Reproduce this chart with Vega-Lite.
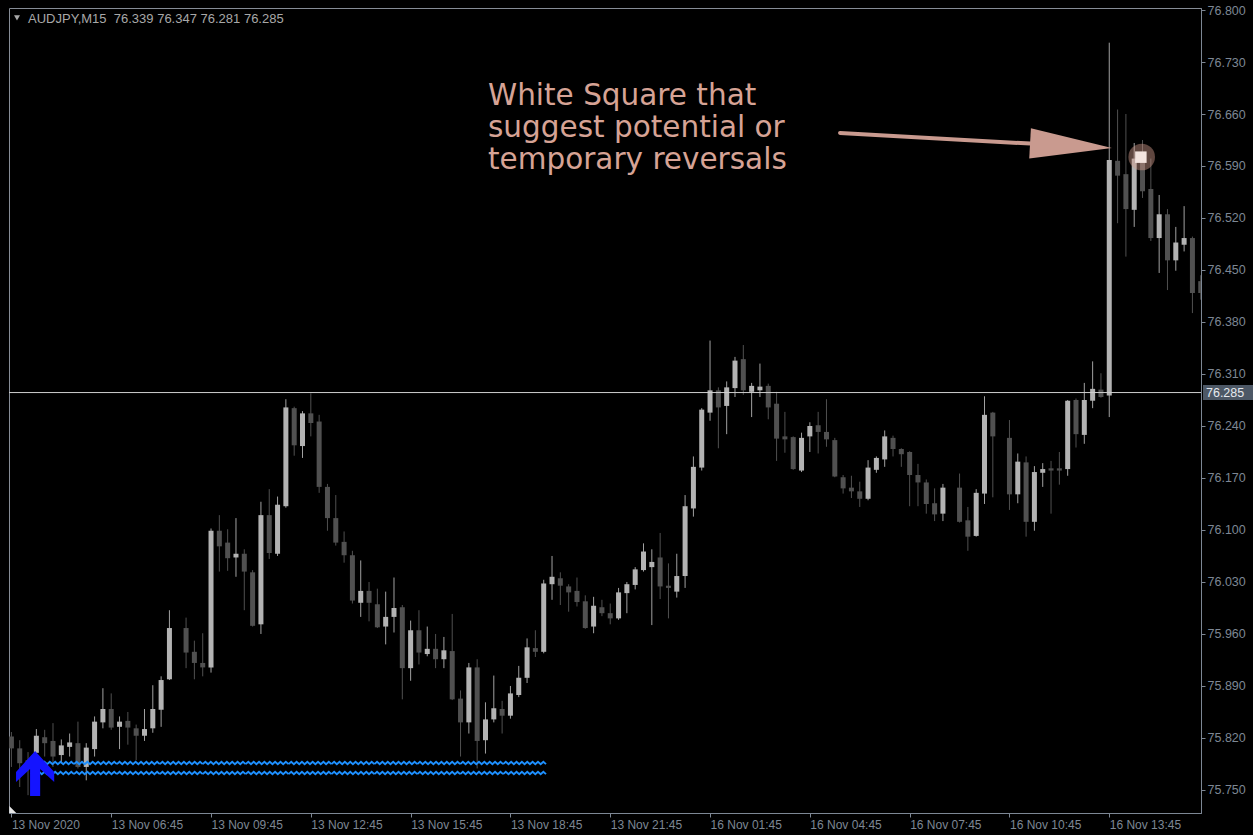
{
  "$schema": "https://vega.github.io/schema/vega-lite/v6.json",
  "width": 1192,
  "height": 805,
  "autosize": {"type": "none"},
  "padding": {"left": 9, "top": 8, "right": 52, "bottom": 22},
  "background": "#000000",
  "config": {
    "view": {"stroke": "#868c96", "strokeWidth": 1},
    "scale": {"continuousPadding": 0},
    "axis": {"grid": false, "domainColor": "#7d8794", "tickColor": "#7d8794", "labelColor": "#7d8794", "labelFont": "Liberation Sans", "labelFontSize": 12.5, "tickSize": 4, "domainWidth": 1, "tickWidth": 1, "labelOverlap": false, "labelBound": false, "labelFlush": false},
    "axisX": {"labelFontSize": 12}
  },
  "data": {"values": [
    {"i":0,"o":75.822,"h":75.828,"l":75.781,"c":75.806},
    {"i":1,"o":75.806,"h":75.817,"l":75.754,"c":75.786},
    {"i":2,"o":75.790,"h":75.801,"l":75.743,"c":75.780},
    {"i":3,"o":75.800,"h":75.832,"l":75.794,"c":75.823},
    {"i":4,"o":75.821,"h":75.831,"l":75.795,"c":75.813},
    {"i":5,"o":75.816,"h":75.840,"l":75.781,"c":75.795},
    {"i":6,"o":75.797,"h":75.818,"l":75.786,"c":75.810},
    {"i":7,"o":75.808,"h":75.826,"l":75.795,"c":75.814},
    {"i":8,"o":75.813,"h":75.842,"l":75.779,"c":75.781},
    {"i":9,"o":75.781,"h":75.813,"l":75.763,"c":75.807},
    {"i":10,"o":75.805,"h":75.849,"l":75.795,"c":75.842},
    {"i":11,"o":75.841,"h":75.887,"l":75.833,"c":75.859},
    {"i":12,"o":75.859,"h":75.880,"l":75.831,"c":75.834},
    {"i":13,"o":75.835,"h":75.849,"l":75.805,"c":75.842},
    {"i":14,"o":75.843,"h":75.855,"l":75.811,"c":75.834},
    {"i":15,"o":75.833,"h":75.838,"l":75.790,"c":75.823},
    {"i":16,"o":75.823,"h":75.859,"l":75.816,"c":75.832},
    {"i":17,"o":75.833,"h":75.891,"l":75.827,"c":75.859},
    {"i":18,"o":75.858,"h":75.903,"l":75.835,"c":75.898},
    {"i":19,"o":75.899,"h":75.992,"l":75.898,"c":75.968},
    {"i":21,"o":75.968,"h":75.982,"l":75.914,"c":75.935},
    {"i":22,"o":75.936,"h":75.951,"l":75.899,"c":75.921},
    {"i":23,"o":75.921,"h":75.961,"l":75.903,"c":75.915},
    {"i":24,"o":75.915,"h":76.102,"l":75.908,"c":76.099},
    {"i":25,"o":76.099,"h":76.120,"l":76.044,"c":76.078},
    {"i":26,"o":76.083,"h":76.101,"l":76.045,"c":76.062},
    {"i":27,"o":76.063,"h":76.116,"l":76.037,"c":76.068},
    {"i":28,"o":76.068,"h":76.074,"l":75.992,"c":76.044},
    {"i":29,"o":76.043,"h":76.046,"l":75.970,"c":75.971},
    {"i":30,"o":75.973,"h":76.138,"l":75.960,"c":76.120},
    {"i":31,"o":76.120,"h":76.155,"l":76.061,"c":76.069},
    {"i":32,"o":76.068,"h":76.145,"l":76.065,"c":76.134},
    {"i":33,"o":76.132,"h":76.276,"l":76.130,"c":76.265},
    {"i":34,"o":76.264,"h":76.266,"l":76.200,"c":76.214},
    {"i":35,"o":76.213,"h":76.260,"l":76.197,"c":76.257},
    {"i":36,"o":76.257,"h":76.284,"l":76.226,"c":76.244},
    {"i":37,"o":76.246,"h":76.255,"l":76.150,"c":76.158},
    {"i":38,"o":76.158,"h":76.162,"l":76.099,"c":76.116},
    {"i":39,"o":76.116,"h":76.147,"l":76.079,"c":76.083},
    {"i":40,"o":76.084,"h":76.098,"l":76.056,"c":76.066},
    {"i":41,"o":76.066,"h":76.072,"l":76.001,"c":76.005},
    {"i":42,"o":76.002,"h":76.059,"l":75.983,"c":76.018},
    {"i":43,"o":76.018,"h":76.030,"l":75.977,"c":76.002},
    {"i":44,"o":76.000,"h":76.021,"l":75.968,"c":75.969},
    {"i":45,"o":75.970,"h":76.017,"l":75.946,"c":75.983},
    {"i":46,"o":75.983,"h":76.036,"l":75.962,"c":75.995},
    {"i":47,"o":75.996,"h":75.999,"l":75.872,"c":75.914},
    {"i":48,"o":75.914,"h":75.978,"l":75.897,"c":75.965},
    {"i":49,"o":75.965,"h":75.992,"l":75.919,"c":75.935},
    {"i":50,"o":75.933,"h":75.970,"l":75.930,"c":75.940},
    {"i":51,"o":75.940,"h":75.960,"l":75.914,"c":75.926},
    {"i":52,"o":75.926,"h":75.956,"l":75.914,"c":75.938},
    {"i":53,"o":75.937,"h":75.987,"l":75.871,"c":75.872},
    {"i":54,"o":75.873,"h":75.884,"l":75.795,"c":75.841},
    {"i":55,"o":75.841,"h":75.921,"l":75.826,"c":75.915},
    {"i":56,"o":75.915,"h":75.926,"l":75.779,"c":75.816},
    {"i":57,"o":75.817,"h":75.868,"l":75.799,"c":75.845},
    {"i":58,"o":75.845,"h":75.904,"l":75.841,"c":75.860},
    {"i":59,"o":75.859,"h":75.870,"l":75.826,"c":75.850},
    {"i":60,"o":75.850,"h":75.890,"l":75.846,"c":75.880},
    {"i":61,"o":75.878,"h":75.917,"l":75.875,"c":75.901},
    {"i":62,"o":75.901,"h":75.954,"l":75.894,"c":75.942},
    {"i":63,"o":75.941,"h":75.965,"l":75.929,"c":75.936},
    {"i":64,"o":75.936,"h":76.033,"l":75.934,"c":76.028},
    {"i":65,"o":76.027,"h":76.065,"l":76.006,"c":76.037},
    {"i":66,"o":76.035,"h":76.043,"l":75.999,"c":76.025},
    {"i":67,"o":76.024,"h":76.027,"l":75.990,"c":76.016},
    {"i":68,"o":76.018,"h":76.036,"l":75.997,"c":76.003},
    {"i":69,"o":76.004,"h":76.012,"l":75.967,"c":75.968},
    {"i":70,"o":75.970,"h":76.010,"l":75.961,"c":75.998},
    {"i":71,"o":75.996,"h":76.006,"l":75.984,"c":75.988},
    {"i":72,"o":75.988,"h":76.001,"l":75.973,"c":75.981},
    {"i":73,"o":75.981,"h":76.022,"l":75.979,"c":76.016},
    {"i":74,"o":76.015,"h":76.030,"l":75.988,"c":76.027},
    {"i":75,"o":76.026,"h":76.050,"l":76.020,"c":76.047},
    {"i":76,"o":76.046,"h":76.082,"l":76.044,"c":76.071},
    {"i":77,"o":76.050,"h":76.074,"l":75.972,"c":76.057},
    {"i":78,"o":76.063,"h":76.096,"l":76.007,"c":76.024},
    {"i":79,"o":76.025,"h":76.055,"l":75.981,"c":76.022},
    {"i":80,"o":76.017,"h":76.068,"l":76.009,"c":76.038},
    {"i":81,"o":76.038,"h":76.147,"l":76.022,"c":76.132},
    {"i":82,"o":76.129,"h":76.199,"l":76.118,"c":76.185},
    {"i":83,"o":76.184,"h":76.264,"l":76.180,"c":76.262},
    {"i":84,"o":76.258,"h":76.355,"l":76.247,"c":76.288},
    {"i":85,"o":76.288,"h":76.292,"l":76.210,"c":76.265},
    {"i":86,"o":76.267,"h":76.300,"l":76.229,"c":76.292},
    {"i":87,"o":76.291,"h":76.333,"l":76.279,"c":76.328},
    {"i":88,"o":76.330,"h":76.349,"l":76.282,"c":76.288},
    {"i":89,"o":76.286,"h":76.298,"l":76.252,"c":76.294},
    {"i":90,"o":76.288,"h":76.324,"l":76.279,"c":76.293},
    {"i":91,"o":76.294,"h":76.297,"l":76.249,"c":76.265},
    {"i":92,"o":76.270,"h":76.286,"l":76.193,"c":76.223},
    {"i":93,"o":76.226,"h":76.259,"l":76.204,"c":76.222},
    {"i":94,"o":76.225,"h":76.226,"l":76.181,"c":76.182},
    {"i":95,"o":76.180,"h":76.231,"l":76.178,"c":76.224},
    {"i":96,"o":76.226,"h":76.245,"l":76.205,"c":76.240},
    {"i":97,"o":76.241,"h":76.259,"l":76.203,"c":76.232},
    {"i":98,"o":76.232,"h":76.276,"l":76.212,"c":76.222},
    {"i":99,"o":76.221,"h":76.224,"l":76.171,"c":76.172},
    {"i":100,"o":76.171,"h":76.174,"l":76.149,"c":76.156},
    {"i":101,"o":76.157,"h":76.173,"l":76.143,"c":76.152},
    {"i":102,"o":76.152,"h":76.165,"l":76.131,"c":76.142},
    {"i":103,"o":76.142,"h":76.194,"l":76.140,"c":76.184},
    {"i":104,"o":76.181,"h":76.199,"l":76.177,"c":76.197},
    {"i":105,"o":76.195,"h":76.234,"l":76.185,"c":76.226},
    {"i":106,"o":76.224,"h":76.227,"l":76.199,"c":76.209},
    {"i":107,"o":76.209,"h":76.210,"l":76.185,"c":76.202},
    {"i":108,"o":76.205,"h":76.206,"l":76.132,"c":76.174},
    {"i":109,"o":76.174,"h":76.189,"l":76.132,"c":76.164},
    {"i":110,"o":76.164,"h":76.168,"l":76.122,"c":76.135},
    {"i":111,"o":76.136,"h":76.156,"l":76.112,"c":76.121},
    {"i":112,"o":76.122,"h":76.162,"l":76.112,"c":76.157},
    {"i":114,"o":76.157,"h":76.176,"l":76.110,"c":76.111},
    {"i":115,"o":76.113,"h":76.131,"l":76.072,"c":76.091},
    {"i":116,"o":76.092,"h":76.155,"l":76.091,"c":76.150},
    {"i":117,"o":76.149,"h":76.280,"l":76.135,"c":76.255},
    {"i":118,"o":76.258,"h":76.259,"l":76.144,"c":76.226},
    {"i":120,"o":76.224,"h":76.248,"l":76.127,"c":76.148},
    {"i":121,"o":76.148,"h":76.203,"l":76.136,"c":76.192},
    {"i":122,"o":76.191,"h":76.199,"l":76.091,"c":76.111},
    {"i":123,"o":76.111,"h":76.186,"l":76.099,"c":76.178},
    {"i":124,"o":76.177,"h":76.190,"l":76.158,"c":76.182},
    {"i":125,"o":76.183,"h":76.193,"l":76.122,"c":76.180},
    {"i":126,"o":76.183,"h":76.205,"l":76.161,"c":76.180},
    {"i":127,"o":76.182,"h":76.275,"l":76.173,"c":76.274},
    {"i":128,"o":76.275,"h":76.277,"l":76.211,"c":76.229},
    {"i":129,"o":76.228,"h":76.298,"l":76.216,"c":76.275},
    {"i":130,"o":76.274,"h":76.327,"l":76.264,"c":76.290},
    {"i":131,"o":76.289,"h":76.311,"l":76.278,"c":76.279},
    {"i":132,"o":76.281,"h":76.756,"l":76.252,"c":76.598},
    {"i":133,"o":76.597,"h":76.666,"l":76.513,"c":76.577},
    {"i":134,"o":76.579,"h":76.660,"l":76.468,"c":76.532},
    {"i":135,"o":76.531,"h":76.621,"l":76.508,"c":76.600},
    {"i":136,"o":76.601,"h":76.625,"l":76.547,"c":76.556},
    {"i":137,"o":76.559,"h":76.600,"l":76.489,"c":76.493},
    {"i":138,"o":76.493,"h":76.551,"l":76.446,"c":76.525},
    {"i":139,"o":76.525,"h":76.532,"l":76.423,"c":76.463},
    {"i":140,"o":76.463,"h":76.508,"l":76.449,"c":76.487},
    {"i":141,"o":76.484,"h":76.536,"l":76.475,"c":76.493},
    {"i":142,"o":76.493,"h":76.495,"l":76.392,"c":76.419},
    {"i":143,"o":76.435,"h":76.443,"l":76.410,"c":76.419}
  ]},
  "layer": [
    {
      "mark": {"type": "rule", "strokeWidth": 1, "clip": true},
      "encoding": {
        "x": {"field": "i", "type": "quantitative", "title": null,
          "scale": {"domain": [-0.29, 143.03], "nice": false, "zero": false, "padding": 0},
          "axis": {"orient": "bottom", "values": [0,12,24,36,48,60,72,84,96,108,120,132],
            "labelExpr": "['13 Nov 2020','13 Nov 06:45','13 Nov 09:45','13 Nov 12:45','13 Nov 15:45','13 Nov 18:45','13 Nov 21:45','16 Nov 01:45','16 Nov 04:45','16 Nov 07:45','16 Nov 10:45','16 Nov 13:45'][round(datum.value/12)]",
            "labelAlign": "left", "labelBaseline": "top", "labelPadding": 2}},
        "y": {"field": "l", "type": "quantitative", "title": null,
          "scale": {"domain": [75.719, 76.8027], "nice": false, "zero": false, "padding": 0},
          "axis": {"orient": "right", "values": [75.75,75.82,75.89,75.96,76.03,76.10,76.17,76.24,76.31,76.38,76.45,76.52,76.59,76.66,76.73,76.80],
            "format": ".3f", "labelAlign": "left", "labelBaseline": "middle", "labelPadding": 2}},
        "y2": {"field": "h"},
        "color": {"condition": {"test": "datum.c >= datum.o", "value": "#a0a0a0"}, "value": "#505050"}
      }
    },
    {
      "mark": {"type": "bar", "size": 5, "clip": true},
      "encoding": {
        "x": {"field": "i", "type": "quantitative", "title": null},
        "y": {"field": "o", "type": "quantitative", "title": null},
        "y2": {"field": "c"},
        "color": {"condition": {"test": "datum.c >= datum.o", "value": "#b3b3b3"}, "value": "#505050"}
      }
    },
    {
      "data": {"values": [{"p": 76.285}]},
      "mark": {"type": "rule", "color": "#cfcfcf", "strokeWidth": 1},
      "encoding": {"y": {"field": "p", "type": "quantitative", "title": null}}
    },
    {
      "data": {"values": [{"level": 75.7864}, {"level": 75.7729}]},
      "mark": {"type": "point", "filled": false, "color": "#1e90ff", "strokeWidth": 1.9, "opacity": 1, "size": 4,
        "shape": "M-257.5,1.2l2.682,-2.4l2.682,2.4l2.682,-2.4l2.682,2.4l2.682,-2.4l2.682,2.4l2.682,-2.4l2.682,2.4l2.682,-2.4l2.682,2.4l2.682,-2.4l2.682,2.4l2.682,-2.4l2.682,2.4l2.682,-2.4l2.682,2.4M-214.58,1.2l2.682,-2.4l2.682,2.4l2.682,-2.4l2.682,2.4l2.682,-2.4l2.682,2.4l2.682,-2.4l2.682,2.4l2.682,-2.4l2.682,2.4l2.682,-2.4l2.682,2.4l2.682,-2.4l2.682,2.4l2.682,-2.4l2.682,2.4M-171.67,1.2l2.682,-2.4l2.682,2.4l2.682,-2.4l2.682,2.4l2.682,-2.4l2.682,2.4l2.682,-2.4l2.682,2.4l2.682,-2.4l2.682,2.4l2.682,-2.4l2.682,2.4l2.682,-2.4l2.682,2.4l2.682,-2.4l2.682,2.4M-128.75,1.2l2.682,-2.4l2.682,2.4l2.682,-2.4l2.682,2.4l2.682,-2.4l2.682,2.4l2.682,-2.4l2.682,2.4l2.682,-2.4l2.682,2.4l2.682,-2.4l2.682,2.4l2.682,-2.4l2.682,2.4l2.682,-2.4l2.682,2.4M-85.83,1.2l2.682,-2.4l2.682,2.4l2.682,-2.4l2.682,2.4l2.682,-2.4l2.682,2.4l2.682,-2.4l2.682,2.4l2.682,-2.4l2.682,2.4l2.682,-2.4l2.682,2.4l2.682,-2.4l2.682,2.4l2.682,-2.4l2.682,2.4M-42.92,1.2l2.682,-2.4l2.682,2.4l2.682,-2.4l2.682,2.4l2.682,-2.4l2.682,2.4l2.682,-2.4l2.682,2.4l2.682,-2.4l2.682,2.4l2.682,-2.4l2.682,2.4l2.682,-2.4l2.682,2.4l2.682,-2.4l2.682,2.4M0,1.2l2.682,-2.4l2.682,2.4l2.682,-2.4l2.682,2.4l2.682,-2.4l2.682,2.4l2.682,-2.4l2.682,2.4l2.682,-2.4l2.682,2.4l2.682,-2.4l2.682,2.4l2.682,-2.4l2.682,2.4l2.682,-2.4l2.682,2.4M42.92,1.2l2.682,-2.4l2.682,2.4l2.682,-2.4l2.682,2.4l2.682,-2.4l2.682,2.4l2.682,-2.4l2.682,2.4l2.682,-2.4l2.682,2.4l2.682,-2.4l2.682,2.4l2.682,-2.4l2.682,2.4l2.682,-2.4l2.682,2.4M85.83,1.2l2.682,-2.4l2.682,2.4l2.682,-2.4l2.682,2.4l2.682,-2.4l2.682,2.4l2.682,-2.4l2.682,2.4l2.682,-2.4l2.682,2.4l2.682,-2.4l2.682,2.4l2.682,-2.4l2.682,2.4l2.682,-2.4l2.682,2.4M128.75,1.2l2.682,-2.4l2.682,2.4l2.682,-2.4l2.682,2.4l2.682,-2.4l2.682,2.4l2.682,-2.4l2.682,2.4l2.682,-2.4l2.682,2.4l2.682,-2.4l2.682,2.4l2.682,-2.4l2.682,2.4l2.682,-2.4l2.682,2.4M171.67,1.2l2.682,-2.4l2.682,2.4l2.682,-2.4l2.682,2.4l2.682,-2.4l2.682,2.4l2.682,-2.4l2.682,2.4l2.682,-2.4l2.682,2.4l2.682,-2.4l2.682,2.4l2.682,-2.4l2.682,2.4l2.682,-2.4l2.682,2.4M214.58,1.2l2.682,-2.4l2.682,2.4l2.682,-2.4l2.682,2.4l2.682,-2.4l2.682,2.4l2.682,-2.4l2.682,2.4l2.682,-2.4l2.682,2.4l2.682,-2.4l2.682,2.4l2.682,-2.4l2.682,2.4l2.682,-2.4l2.682,2.4"},
      "encoding": {
        "x": {"datum": 33.32, "type": "quantitative"},
        "y": {"field": "level", "type": "quantitative", "title": null}
      }
    },
    {
      "data": {"values": [{"signal": "buy"}]},
      "mark": {"type": "point", "filled": true, "color": "#1414ff", "opacity": 1, "strokeWidth": 0, "size": 2116,
        "shape": "M0,-0.96L0.83,-0.04L0.83,0.39L0.22,-0.17L0.22,1L-0.22,1L-0.22,-0.17L-0.83,0.39L-0.83,-0.04Z"},
      "encoding": {"x": {"datum": 2.85, "type": "quantitative"}, "y": {"datum": 75.7729, "type": "quantitative"}}
    },
    {
      "data": {"values": [{"mark": "highlight"}]},
      "mark": {"type": "point", "shape": "circle", "filled": true, "color": "#d39c8c", "opacity": 0.45, "strokeWidth": 0, "size": 707},
      "encoding": {"x": {"datum": 135.9, "type": "quantitative"}, "y": {"datum": 76.6021, "type": "quantitative"}}
    },
    {
      "data": {"values": [{"mark": "square"}]},
      "mark": {"type": "point", "shape": "square", "filled": true, "color": "#f3e3de", "opacity": 1, "strokeWidth": 0, "size": 132},
      "encoding": {"x": {"datum": 135.8, "type": "quantitative"}, "y": {"datum": 76.6019, "type": "quantitative"}}
    },
    {
      "data": {"values": [{"mark": "arrow"}]},
      "mark": {"type": "rule", "color": "#c99a8f", "strokeWidth": 4, "strokeCap": "round"},
      "encoding": {
        "x": {"datum": 99.63, "type": "quantitative"}, "y": {"datum": 76.6345, "type": "quantitative"},
        "x2": {"datum": 123.07}, "y2": {"datum": 76.6198}
      }
    },
    {
      "data": {"values": [{"mark": "arrowhead"}]},
      "mark": {"type": "point", "shape": "M1,0L-1,-0.37L-1,0.37Z", "filled": true, "color": "#c99a8f", "opacity": 1, "strokeWidth": 0, "size": 6724, "angle": 3.16},
      "encoding": {"x": {"datum": 127.4, "type": "quantitative"}, "y": {"datum": 76.6174, "type": "quantitative"}}
    },
    {
      "data": {"values": [{"t": "White Square that\nsuggest potential or\ntemporary reversals"}]},
      "mark": {"type": "text", "lineBreak": "\n", "align": "left", "baseline": "top", "font": "DejaVu Sans", "fontSize": 29.5, "lineHeight": 32, "color": "#d6a395"},
      "encoding": {"x": {"datum": 57.3, "type": "quantitative"}, "y": {"datum": 76.7031, "type": "quantitative"}, "text": {"field": "t"}}
    },
    {
      "data": {"values": [{"mark": "menu"}]},
      "mark": {"type": "point", "shape": "triangle-down", "filled": true, "color": "#a8a8a8", "opacity": 1, "strokeWidth": 0, "size": 36},
      "encoding": {"x": {"datum": 0.67, "type": "quantitative"}, "y": {"datum": 76.7893, "type": "quantitative"}}
    },
    {
      "data": {"values": [{"t": "AUDJPY,M15\u00a0\u00a076.339 76.347 76.281 76.285"}]},
      "mark": {"type": "text", "align": "left", "baseline": "middle", "font": "Liberation Sans", "fontSize": 13, "color": "#a8a8a8"},
      "encoding": {"x": {"datum": 2.0, "type": "quantitative"}, "y": {"datum": 76.7879, "type": "quantitative"}, "text": {"field": "t"}}
    },
    {
      "data": {"values": [{"mark": "corner"}]},
      "mark": {"type": "point", "shape": "M-1,-1L1,1L-1,1Z", "filled": true, "color": "#e8e8e8", "opacity": 1, "strokeWidth": 0, "size": 49},
      "encoding": {"x": {"datum": 0.16, "type": "quantitative"}, "y": {"datum": 75.7238, "type": "quantitative"}}
    },
    {
      "data": {"values": [{"mark": "pricebox"}]},
      "mark": {"type": "rect", "color": "#4d5866", "clip": false},
      "encoding": {
        "x": {"datum": 143.27, "type": "quantitative"}, "x2": {"datum": 149.3},
        "y": {"datum": 76.2952, "type": "quantitative"}, "y2": {"datum": 76.275}
      }
    },
    {
      "data": {"values": [{"t": "76.285", "p": 76.285}]},
      "mark": {"type": "text", "align": "left", "baseline": "middle", "font": "Liberation Sans", "fontSize": 12.5, "color": "#e6e9ee"},
      "encoding": {"x": {"datum": 143.63, "type": "quantitative"}, "y": {"field": "p", "type": "quantitative", "title": null}, "text": {"field": "t"}}
    }
  ]
}
